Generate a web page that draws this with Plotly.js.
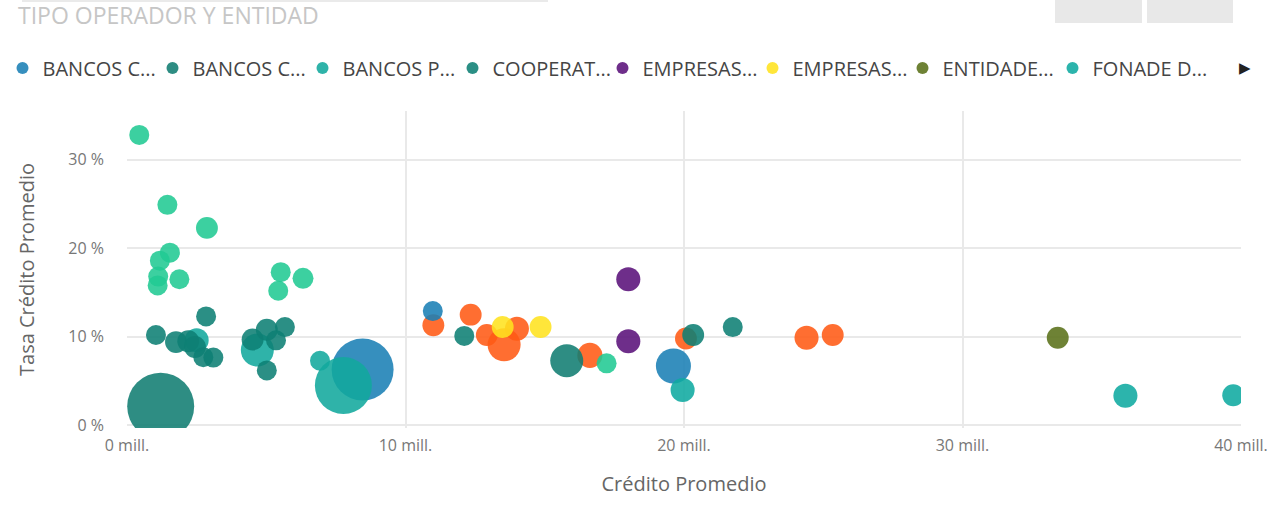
<!DOCTYPE html>
<html>
<head>
<meta charset="utf-8">
<script src="https://cdn.plot.ly/plotly-3.0.1.min.js"></script>
<style>html,body{margin:0;padding:0;background:#fff;}#chart{width:1267px;height:505px;}</style>
</head>
<body>
<div id="chart"></div>
<script>
// ---- Data (x: Crédito Promedio in millions, y: Tasa Crédito Promedio in %, v: bubble measure) ----
const bancosC1Name = "BANCOS C...";
const bancosC1X = [8.46, 10.98, 19.62];
const bancosC1Y = [6.3, 12.9, 6.7];
const bancosC1V = [38.4, 4.0, 12.3];

const bancosC2Name = "BANCOS C...";
const bancosC2X = [1.21, 15.79];
const bancosC2Y = [2.15, 7.3];
const bancosC2V = [44.9, 10.9];

const bancosPName = "BANCOS P...";
const bancosPX = [7.77, 4.68, 6.93, 2.5];
const bancosPY = [4.5, 8.5, 7.3, 9.6];
const bancosPV = [32.5, 10.9, 4.0, 5.8];

const coopName = "COOPERAT...";
const coopX = [1.04, 2.84, 1.76, 2.2, 2.44, 2.74, 3.1, 4.51, 5.02, 5.67, 5.35, 5.02, 12.11, 20.33, 21.75];
const coopY = [10.2, 12.3, 9.4, 9.5, 8.85, 7.7, 7.65, 9.7, 10.8, 11.1, 9.6, 6.2, 10.1, 10.2, 11.1];
const coopV = [4.0, 4.0, 4.8, 4.8, 4.8, 4.0, 4.0, 4.8, 4.8, 4.0, 4.0, 4.0, 4.0, 4.8, 4.0];

const empresas1Name = "EMPRESAS...";
const empresas1X = [18.0, 18.0];
const empresas1Y = [16.5, 9.5];
const empresas1V = [5.8, 5.8];

const empresas2Name = "EMPRESAS...";
const empresas2X = [13.49, 14.85];
const empresas2Y = [11.1, 11.1];
const empresas2V = [4.8, 4.8];

const entidadesName = "ENTIDADE...";
const entidadesX = [33.42];
const entidadesY = [9.9];
const entidadesV = [4.8];

const fonadeName = "FONADE D...";
const fonadeX = [35.85, 39.72, 19.95];
const fonadeY = [3.35, 3.4, 4.0];
const fonadeV = [5.8, 4.8, 5.8];

// series beyond the visible legend page
const otrosAName = "Otros A";
const otrosAX = [11.0, 12.34, 12.92, 13.54, 14.0, 16.62, 20.07, 24.4, 25.34];
const otrosAY = [11.3, 12.5, 10.2, 9.1, 10.9, 7.9, 9.8, 9.9, 10.2];
const otrosAV = [4.8, 4.8, 4.8, 10.9, 5.8, 6.3, 4.8, 5.8, 4.8];

const otrosBName = "Otros B";
const otrosBX = [0.44, 1.45, 2.87, 1.54, 1.18, 1.12, 1.10, 1.88, 5.52, 5.43, 6.32, 17.22];
const otrosBY = [32.8, 24.9, 22.3, 19.5, 18.6, 16.8, 15.8, 16.5, 17.3, 15.2, 16.6, 7.0];
const otrosBV = [4.0, 4.0, 4.8, 4.0, 4.0, 4.0, 4.0, 4.0, 4.0, 4.0, 4.4, 4.0];

const xTickVals = [0, 10, 20, 30, 40];
const xTickText = ["0 mill.", "10 mill.", "20 mill.", "30 mill.", "40 mill."];
const yTickVals = [0, 10, 20, 30];
const yTickText = ["0 %", "10 %", "20 %", "30 %"];

const FONT = "Open Sans, Noto Sans, sans-serif";

function bubble(name, x, y, v, color, rank, show) {
  return {
    type: "scatter", mode: "markers", name: name, x: x, y: y,
    showlegend: show, legendrank: rank,
    hoverinfo: "skip",
    marker: { size: v, sizemode: "area", sizeref: 0.02, color: color, opacity: 0.88, line: { width: 0 } }
  };
}

const traces = [
  bubble(otrosAName, otrosAX, otrosAY, otrosAV, "#FF5A14", 100, false),
  bubble(bancosC1Name, bancosC1X, bancosC1Y, bancosC1V, "#1A7FB5", 1, true),
  bubble(bancosC2Name, bancosC2X, bancosC2Y, bancosC2V, "#117D72", 2, true),
  bubble(bancosPName, bancosPX, bancosPY, bancosPV, "#12A89D", 3, true),
  bubble(coopName, coopX, coopY, coopV, "#0E7F74", 4, true),
  bubble(empresas1Name, empresas1X, empresas1Y, empresas1V, "#5A117A", 5, true),
  bubble(empresas2Name, empresas2X, empresas2Y, empresas2V, "#FFE21F", 6, true),
  bubble(entidadesName, entidadesX, entidadesY, entidadesV, "#5A7119", 7, true),
  bubble(fonadeName, fonadeX, fonadeY, fonadeV, "#0FAAA0", 8, true),
  bubble(otrosBName, otrosBX, otrosBY, otrosBV, "#21C993", 101, false)
];

const PW = 1114, PH = 317, PL = 127, PB = 428;

const layout = {
  width: 1267, height: 505,
  margin: { l: 127, r: 26, t: 111, b: 77 },
  paper_bgcolor: "#ffffff", plot_bgcolor: "#ffffff",
  font: { family: FONT, color: "#666666" },
  title: {
    text: "TIPO OPERADOR Y ENTIDAD",
    x: 18 / 1267, xanchor: "left", xref: "container",
    y: 1 - 16 / 505, yanchor: "middle", yref: "container",
    font: { family: FONT, size: 23, color: "#c6c6c6" }
  },
  showlegend: true,
  legend: {
    orientation: "h", xref: "paper", yref: "paper",
    x: (12.5 - PL) / PW, xanchor: "left", y: (PB - 68) / PH, yanchor: "middle",
    entrywidth: 115, entrywidthmode: "pixels",
    indentation: -10,
    itemsizing: "constant",
    font: { family: FONT, size: 20, color: "#454545" },
    bgcolor: "rgba(0,0,0,0)"
  },
  xaxis: {
    range: [0, 40], tickvals: xTickVals, ticktext: xTickText,
    showgrid: true, gridcolor: "#e9e9e9", gridwidth: 2,
    zeroline: false, showline: false, ticks: "",
    ticklabelstandoff: 6, ticklabeloverflow: "allow",
    tickfont: { family: FONT, size: 16, color: "#777777" },
    title: { text: "Crédito Promedio", font: { family: FONT, size: 20, color: "#666666" }, standoff: 21 },
    fixedrange: true
  },
  yaxis: {
    range: [-0.3, 35.5], tickvals: yTickVals, ticktext: yTickText,
    showgrid: true, gridcolor: "#e9e9e9", gridwidth: 2,
    zeroline: false, showline: false, ticks: "",
    ticklabelstandoff: 22,
    tickfont: { family: FONT, size: 16, color: "#777777" },
    title: { text: "Tasa Crédito Promedio", font: { family: FONT, size: 20, color: "#666666" }, standoff: 28 },
    fixedrange: true
  },
  shapes: [
    { type: "line", xref: "paper", yref: "paper", x0: (22 - PL) / PW, x1: (548 - PL) / PW,
      y0: (PB - 1) / PH, y1: (PB - 1) / PH, line: { color: "#e3e3e3", width: 1.5 } },
    { type: "rect", xref: "paper", yref: "paper", x0: (1055 - PL) / PW, x1: (1142 - PL) / PW,
      y0: (PB - 23) / PH, y1: (PB + 2) / PH, fillcolor: "#e8e8e8", line: { width: 0 } },
    { type: "rect", xref: "paper", yref: "paper", x0: (1147 - PL) / PW, x1: (1233 - PL) / PW,
      y0: (PB - 23) / PH, y1: (PB + 2) / PH, fillcolor: "#e8e8e8", line: { width: 0 } }
  ],
  annotations: [
    { text: "▶", xref: "paper", yref: "paper", x: (1245 - PL) / PW, y: (PB - 68) / PH,
      xanchor: "center", yanchor: "middle", showarrow: false,
      font: { family: "DejaVu Sans", size: 15, color: "#222222" } }
  ]
};

Plotly.newPlot("chart", traces, layout, { displayModeBar: false, staticPlot: true });
</script>
</body>
</html>
